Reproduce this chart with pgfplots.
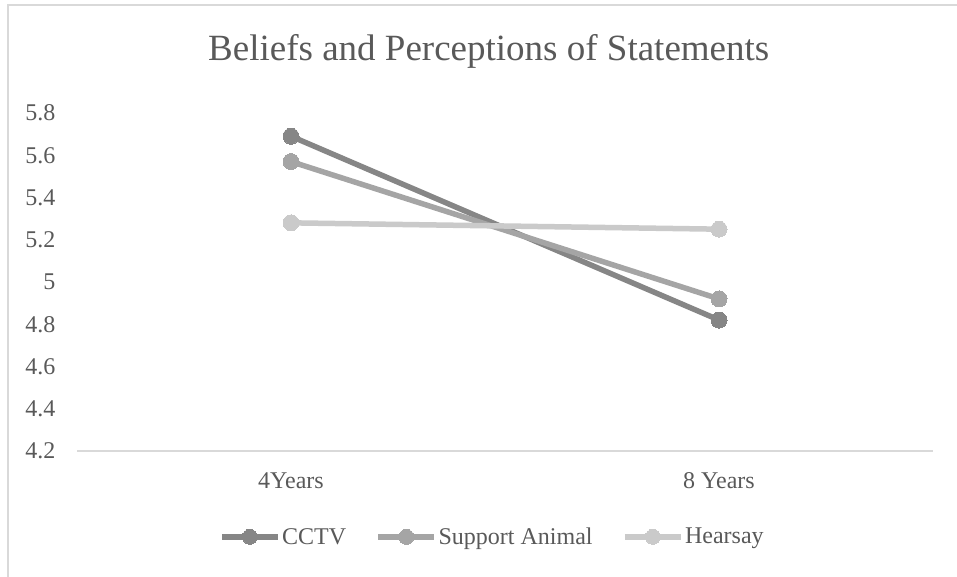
\documentclass[border=0pt]{standalone}
\usepackage{fontspec}
\setmainfont{Liberation Serif}
\usepackage{pgfplots}
\pgfplotsset{compat=1.18}
\definecolor{cctv}{HTML}{868686}
\definecolor{supp}{HTML}{A5A5A5}
\definecolor{hear}{HTML}{CACACA}
\definecolor{txt}{HTML}{595959}
\definecolor{axg}{HTML}{D9D9D9}
\begin{document}
\begin{tikzpicture}
\useasboundingbox (0,0) rectangle (957bp,577bp);
\draw[axg, line width=1.2bp] (8bp,0) -- (8bp,572bp) -- (957bp,572bp);
\begin{axis}[
  at={(77bp,126bp)}, anchor=south west,
  scale only axis, width=856bp, height=338bp,
  xmin=0.5, xmax=2.5, ymin=4.2, ymax=5.8,
  xtick={1,2}, xticklabels={4Years, 8 Years},
  ytick={4.2,4.4,4.6,4.8,5,5.2,5.4,5.6,5.8},
  yticklabels={4.2,4.4,4.6,4.8,5,5.2,5.4,5.6,5.8},
  axis line style={draw=none},
  major tick length=0pt, tick style={draw=none},
  ticklabel style={font=\fontsize{24bp}{28bp}\selectfont, text=txt},
  yticklabel style={anchor=east, xshift=-18bp},
  xticklabel style={anchor=base, yshift=-38bp},
  title={Beliefs and Perceptions of Statements},
  title style={at={(0.481,1)}, anchor=base, yshift=47bp, font=\fontsize{37bp}{43bp}\selectfont, text=txt},
  legend columns=3,
  legend style={at={(0.485,-0.254)}, anchor=center, draw=none, fill=none,
    font=\fontsize{24bp}{28bp}\selectfont, text=txt,
    /tikz/every even column/.append style={column sep=28bp},
    nodes={inner sep=1.5bp}},
  legend image code/.code={\draw[#1, line width=5.5bp, mark size=7.5bp, mark repeat=2, mark phase=2] plot coordinates {(0bp,0bp) (28bp,0bp) (56bp,0bp)};},
  clip=false,
]
\draw[axg, line width=1.2bp] (rel axis cs:0,0) -- (rel axis cs:1,0);
\addplot[color=cctv, line width=5.5bp, mark=*, mark size=8bp, mark options={fill=cctv, draw=cctv, line width=0pt}] coordinates {(1,5.69) (2,4.82)};
\addlegendentry{CCTV}
\addplot[color=supp, line width=5.5bp, mark=*, mark size=8bp, mark options={fill=supp, draw=supp, line width=0pt}] coordinates {(1,5.57) (2,4.92)};
\addlegendentry{Support Animal}
\addplot[color=hear, line width=5.5bp, mark=*, mark size=8bp, mark options={fill=hear, draw=hear, line width=0pt}] coordinates {(1,5.28) (2,5.25)};
\addlegendentry{Hearsay}
\end{axis}
\end{tikzpicture}
\end{document}
